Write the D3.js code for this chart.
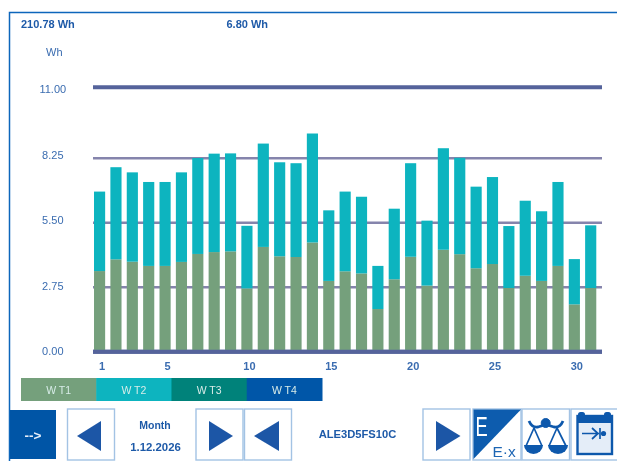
<!DOCTYPE html>
<html>
<head>
<meta charset="utf-8">
<script src="https://cdn.jsdelivr.net/npm/d3@7"></script>
<style>
html, body { margin: 0; padding: 0; background: #fff; }
svg { display: block; }
text { font-family: "Liberation Sans", Arial, sans-serif; }
</style>
</head>
<body>
<div id="chart"></div>
<script>
var days = d3.range(1, 32);
var wt1 = [3.44, 3.94, 3.84, 3.66, 3.66, 3.83, 4.17, 4.25, 4.28, 2.70, 4.47, 4.07, 4.04, 4.66, 3.02, 3.43,
           3.34, 1.82, 3.09, 4.05, 2.82, 4.35, 4.16, 3.56, 3.74, 2.72, 3.24, 3.02, 3.66, 2.02, 2.72];
var wt2 = [3.39, 3.93, 3.81, 3.58, 3.58, 3.82, 4.09, 4.18, 4.16, 2.67, 4.35, 4.01, 4.00, 4.55, 3.01, 3.40,
           3.27, 1.84, 3.01, 3.99, 2.77, 4.29, 4.11, 3.48, 3.71, 2.64, 3.20, 2.97, 3.58, 1.93, 2.67];
var yTicks = [0, 2.75, 5.5, 8.25, 11];
var xTicks = [1, 5, 10, 15, 20, 25, 30];
var legendNames = ["W T1", "W T2", "W T3", "W T4"];
var legendColors = ["#74a07c", "#08b4bf", "#00827a", "#0056a8"];

var blue = "#3a6cb0";
var dark = "#1f5aa8";

var svg = d3.select("#chart").append("svg")
    .attr("width", 617)
    .attr("height", 461);

// the source is a soft screen capture, so everything gets a light blur
svg.append("filter").attr("id", "soft")
    .attr("x", "-5%").attr("y", "-5%").attr("width", "110%").attr("height", "110%")
    .append("feGaussianBlur").attr("stdDeviation", 0.6);

var root = svg.append("g").attr("filter", "url(#soft)");

root.append("rect").attr("width", 617).attr("height", 461).attr("fill", "#fff");
root.append("path")
    .attr("d", "M617,12.5H9.5V461")
    .attr("fill", "none")
    .attr("stroke", "#0d66bb")
    .attr("stroke-width", 1.5);

// the top step of the lines is a little taller than the others on the display,
// the labels beside them are evenly spaced
var y = d3.scaleLinear().domain([0, 8.25, 11]).range([351.7, 158.3, 87.3]);
var yLabel = d3.scaleLinear().domain([0, 11]).range([351.4, 89.3]);
var x = d3.scaleBand().domain(days).range([91.4, 598.9]).paddingInner(0.32).paddingOuter(0.16);

// grid
root.append("g").selectAll("line").data(yTicks).enter().append("line")
    .attr("x1", 93)
    .attr("x2", 602)
    .attr("y1", function(d) { return y(d); })
    .attr("y2", function(d) { return y(d); })
    .attr("stroke", function(d) { return (d === 0 || d === 11) ? "#55639b" : "#8584ac"; })
    .attr("stroke-width", function(d) { return (d === 0 || d === 11) ? 4 : 2.6; });

// bars
var rows = days.map(function(d, i) { return { day: d, wt1: wt1[i], wt2: wt2[i] }; });
var stack = d3.stack().keys(["wt1", "wt2"]);

root.append("g").selectAll("g").data(stack(rows)).enter().append("g")
    .attr("fill", function(d, i) { return legendColors[i]; })
    .selectAll("rect").data(function(d) { return d; }).enter().append("rect")
    .attr("x", function(d) { return x(d.data.day); })
    .attr("y", function(d) { return y(d[1]); })
    .attr("width", x.bandwidth())
    .attr("height", function(d) { return y(d[0]) - y(d[1]); });

// redraw the baseline over the bar feet
root.append("line")
    .attr("x1", 93).attr("x2", 602)
    .attr("y1", y(0)).attr("y2", y(0))
    .attr("stroke", "#55639b").attr("stroke-width", 4);

// axes
var yAxis = root.append("g")
    .attr("transform", "translate(52.8,0)")
    .call(d3.axisLeft(yLabel).tickValues(yTicks).tickFormat(d3.format(".2f")).tickSize(0).tickPadding(0));
yAxis.select(".domain").remove();
yAxis.selectAll("text").attr("font-size", 11).attr("font-family", "Liberation Sans")
    .attr("text-anchor", "middle").attr("fill", blue);

var xAxis = root.append("g")
    .attr("transform", "translate(2.5,362)")
    .call(d3.axisBottom(x).tickValues(xTicks).tickSize(0).tickPadding(0));
xAxis.select(".domain").remove();
xAxis.selectAll("text").attr("font-size", 11).attr("font-weight", "bold")
    .attr("font-family", "Liberation Sans").attr("fill", blue);

// header
function label(px, py, str, size, weight, color, anchor) {
    root.append("text")
        .attr("x", px).attr("y", py)
        .attr("font-size", size)
        .attr("font-weight", weight)
        .attr("fill", color)
        .attr("text-anchor", anchor || "start")
        .text(str);
}
label(21, 28, "210.78 Wh", 11, "bold", dark);
label(226.5, 28, "6.80 Wh", 11, "bold", dark);
label(46, 56, "Wh", 11, "normal", blue);

// legend
var legendX = d3.scaleBand().domain(legendNames).range([21, 322]);
var legend = root.append("g").selectAll("g").data(legendNames).enter().append("g");
legend.append("rect")
    .attr("x", function(d) { return legendX(d); })
    .attr("y", 378)
    .attr("width", legendX.bandwidth() + 0.5)
    .attr("height", 23)
    .attr("fill", function(d, i) { return legendColors[i]; });
legend.append("text")
    .attr("x", function(d) { return legendX(d) + legendX.bandwidth() / 2; })
    .attr("y", 394)
    .attr("text-anchor", "middle")
    .attr("font-size", 10.5)
    .attr("fill", "#d8ece8")
    .text(function(d) { return d; });

// bottom button bar
root.append("rect").attr("x", 10).attr("y", 410).attr("width", 46).attr("height", 49).attr("fill", "#0054a6");
root.append("text").attr("x", 33).attr("y", 440).attr("text-anchor", "middle")
    .attr("font-size", 13.5).attr("font-weight", "bold").attr("fill", "#e8f0fa").text("-->");

function button(px, w) {
    root.append("rect")
        .attr("x", px).attr("y", 409)
        .attr("width", w).attr("height", 51)
        .attr("fill", "#fff")
        .attr("stroke", "#a3c3e4")
        .attr("stroke-width", 1.4);
}
function triangle(x1, x2) {
    root.append("path")
        .attr("d", "M" + x1 + ",436L" + x2 + ",421V451Z")
        .attr("fill", "#1f57a6");
}
button(67.5, 47);
triangle(77, 101);
button(196, 47);
triangle(233, 209);
button(244.5, 47);
triangle(254, 279);
button(423, 47);
triangle(460.5, 436);
button(473, 48);
button(522, 47.5);
button(571, 47);

label(155, 429, "Month", 10.5, "bold", dark, "middle");
label(155.5, 451, "1.12.2026", 11.4, "bold", dark, "middle");
label(357.5, 438, "ALE3D5FS10C", 11.2, "bold", dark, "middle");

// E / E-x button
root.append("path").attr("d", "M473.5,409.5H521L473.5,459Z").attr("fill", "#0a5cae");
root.append("text").attr("transform", "translate(475.5,436) scale(0.68,1)").attr("font-size", 27)
    .attr("fill", "#fff").text("E");
root.append("text").attr("x", 492.5).attr("y", 456.5).attr("font-size", 15.5)
    .attr("fill", "#1f66b4").text("E\u00b7x");

// scales button
var sc = root.append("g").attr("fill", "#1059ac").attr("stroke", "#1059ac");
sc.append("circle").attr("cx", 545.7).attr("cy", 423).attr("r", 4.5);
sc.append("path").attr("d", "M529,421Q532,428 538,427Q542,426 545.7,424Q550,426 554,427Q560,428 563,421")
    .attr("fill", "none").attr("stroke-width", 2.8);
sc.append("path").attr("d", "M534,428L526,446M534,428L542,446M557,428L549,446M557,428L566,446")
    .attr("fill", "none").attr("stroke-width", 1.7);
sc.append("path").attr("d", "M524,445H543A9.5,9 0 0 1 524,445Z").attr("stroke", "none");
sc.append("path").attr("d", "M548,445H568A10,9 0 0 1 548,445Z").attr("stroke", "none");

// calendar button
var cal = root.append("g");
cal.append("rect").attr("x", 577.5).attr("y", 416).attr("width", 34.5).attr("height", 38)
    .attr("fill", "#e4edf8").attr("stroke", "#1059ac").attr("stroke-width", 2.4);
cal.append("rect").attr("x", 577).attr("y", 415).attr("width", 35).attr("height", 8).attr("fill", "#1059ac");
cal.append("rect").attr("x", 578).attr("y", 412).attr("width", 7).attr("height", 7).attr("rx", 2.5).attr("fill", "#1059ac");
cal.append("rect").attr("x", 604).attr("y", 412).attr("width", 7).attr("height", 7).attr("rx", 2.5).attr("fill", "#1059ac");
cal.append("path").attr("d", "M582,433.5H599M592,428L598,433.5L592,439M600,428V439")
    .attr("fill", "none").attr("stroke", "#1059ac").attr("stroke-width", 1.7);
cal.append("circle").attr("cx", 603.5).attr("cy", 433.5).attr("r", 2.6).attr("fill", "#1059ac");
</script>
</body>
</html>
